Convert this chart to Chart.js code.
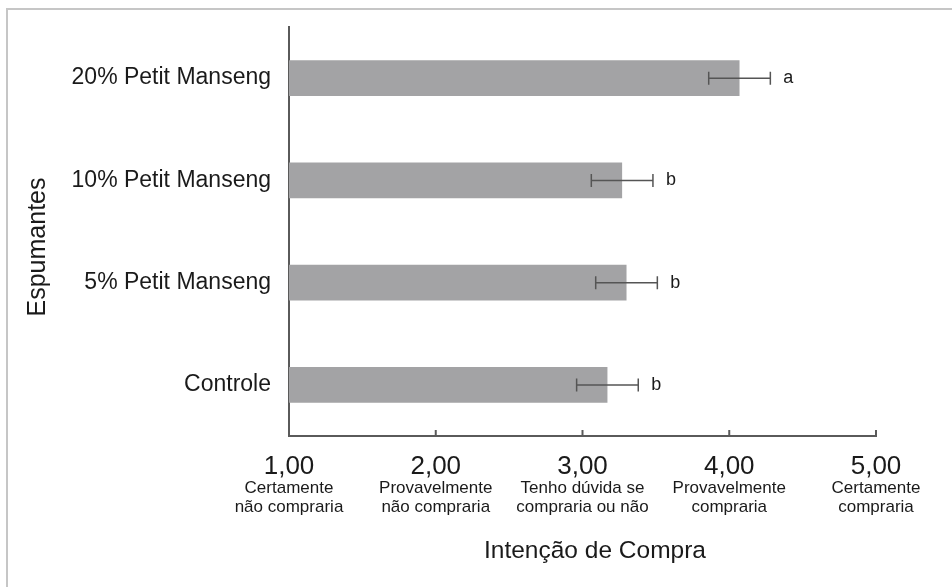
<!DOCTYPE html>
<html>
<head>
<meta charset="utf-8">
<script src="https://cdn.jsdelivr.net/npm/chart.js@4/dist/chart.umd.min.js"></script>
<style>
  html, body { margin: 0; padding: 0; background: #fff; }
  canvas { display: block; }
</style>
</head>
<body>
<canvas id="intencaoChart" width="952" height="587"></canvas>
<script>
// espumantes avaliados (de cima para baixo)
const espumantes = ["20% Petit Manseng", "10% Petit Manseng", "5% Petit Manseng", "Controle"];
const medias = [4.07, 3.27, 3.30, 3.17];
const desvios = [0.21, 0.21, 0.21, 0.21];
const letras = ["a", "b", "b", "b"];

// escala hedônica de intenção de compra
const escalaValores = [1, 2, 3, 4, 5];
const escalaTextos = [
  ["Certamente", "não compraria"],
  ["Provavelmente", "não compraria"],
  ["Tenho dúvida se", "compraria ou não"],
  ["Provavelmente", "compraria"],
  ["Certamente", "compraria"]
];

const fonte = "'Liberation Sans', Arial, sans-serif";
const corTexto = "#1a1a1a";
const corEixo = "#5a5a5a";

// moldura, barras de erro, letras, marcas do eixo e textos extras
const extras = {
  id: "extras",
  beforeDraw(chart) {
    const ctx = chart.ctx;
    ctx.save();
    ctx.strokeStyle = "#c6c6c6";
    ctx.lineWidth = 2;
    ctx.beginPath();
    ctx.moveTo(7, chart.height);
    ctx.lineTo(7, 9);
    ctx.lineTo(chart.width, 9);
    ctx.stroke();
    ctx.restore();
  },
  afterDatasetsDraw(chart) {
    const ctx = chart.ctx;
    const x = chart.scales.x;
    const meta = chart.getDatasetMeta(0);
    ctx.save();
    ctx.strokeStyle = "#555";
    ctx.lineWidth = 1.5;
    ctx.fillStyle = corTexto;
    ctx.font = "18px " + fonte;
    ctx.textBaseline = "middle";
    meta.data.forEach((bar, i) => {
      const lo = x.getPixelForValue(medias[i] - desvios[i]);
      const hi = x.getPixelForValue(medias[i] + desvios[i]);
      const y = bar.y;
      ctx.beginPath();
      ctx.moveTo(lo, y);
      ctx.lineTo(hi, y);
      ctx.moveTo(lo, y - 6.5);
      ctx.lineTo(lo, y + 6.5);
      ctx.moveTo(hi, y - 6.5);
      ctx.lineTo(hi, y + 6.5);
      ctx.stroke();
      ctx.fillText(letras[i], hi + 13, y);
    });
    ctx.restore();
  },
  afterDraw(chart) {
    const ctx = chart.ctx;
    const x = chart.scales.x;
    const area = chart.chartArea;
    ctx.save();
    // marcas do eixo x voltadas para dentro
    ctx.strokeStyle = corEixo;
    ctx.lineWidth = 2;
    escalaValores.slice(1).forEach(v => {
      const px = x.getPixelForValue(v);
      ctx.beginPath();
      ctx.moveTo(px, area.bottom);
      ctx.lineTo(px, area.bottom - 6);
      ctx.stroke();
    });
    // descrição de cada ponto da escala
    ctx.fillStyle = corTexto;
    ctx.font = "17px " + fonte;
    ctx.textAlign = "center";
    ctx.textBaseline = "middle";
    escalaValores.forEach((v, i) => {
      const px = x.getPixelForValue(v);
      escalaTextos[i].forEach((linha, j) => {
        ctx.fillText(linha, px, 488 + j * 19);
      });
    });
    // títulos dos eixos
    ctx.font = "24.5px " + fonte;
    ctx.fillText("Intenção de Compra", 595, 551);
    ctx.font = "25px " + fonte;
    ctx.translate(38, 247);
    ctx.rotate(-Math.PI / 2);
    ctx.fillText("Espumantes", 0, 0);
    ctx.restore();
  }
};

new Chart(document.getElementById("intencaoChart"), {
  type: "bar",
  data: {
    labels: espumantes,
    datasets: [{
      data: medias,
      backgroundColor: "#a3a3a5",
      borderWidth: 0,
      barPercentage: 0.35,
      categoryPercentage: 1
    }]
  },
  options: {
    indexAxis: "y",
    responsive: false,
    animation: false,
    layout: {
      padding: { top: 27, right: 76, left: 0, bottom: 0 }
    },
    plugins: {
      legend: { display: false },
      tooltip: { enabled: false }
    },
    scales: {
      x: {
        min: 1,
        max: 5,
        afterFit: (scale) => { scale.height = 151; },
        afterBuildTicks: (scale) => {
          scale.ticks = escalaValores.map(v => ({ value: v }));
        },
        ticks: {
          padding: 15,
          color: corTexto,
          font: { family: fonte, size: 26 },
          callback: (v) => Number(v).toFixed(2).replace(".", ",")
        },
        grid: { display: false, drawTicks: false },
        border: { display: true, color: corEixo, width: 2 }
      },
      y: {
        afterFit: (scale) => {
          scale.width = 289;
          scale.paddingTop = 0;
          scale.paddingBottom = 0;
        },
        ticks: {
          padding: 18,
          color: corTexto,
          font: { family: fonte, size: 23 }
        },
        grid: { display: false, drawTicks: false },
        border: { display: true, color: corEixo, width: 2 }
      }
    }
  },
  plugins: [extras]
});
</script>
</body>
</html>
